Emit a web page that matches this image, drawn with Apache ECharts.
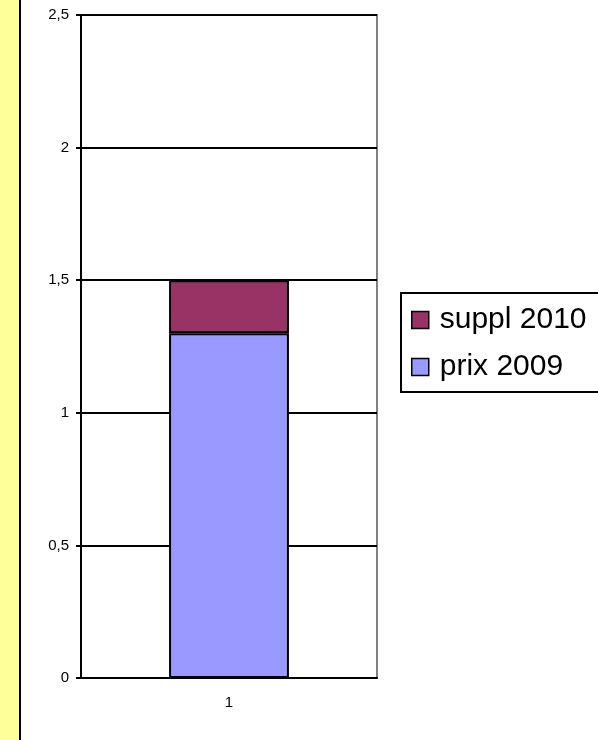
<!DOCTYPE html>
<html><head><meta charset="utf-8">
<style>html,body{margin:0;padding:0;background:#fff}#c{width:598px;height:740px}</style>
<script src="https://cdn.jsdelivr.net/npm/echarts@6/dist/echarts.min.js"></script>
</head><body><div id="c"></div>
<script>
var categories = ['1'];
var prix2009 = [1.3];
var suppl2010 = [0.2];
var yTicks = {min: 0, max: 2.5, interval: 0.5};

var chart = echarts.init(document.getElementById('c'), null, {renderer: 'canvas'});
var font = '"Liberation Sans", Arial, sans-serif';
chart.setOption({
  animation: false,
  backgroundColor: '#ffffff',
  graphic: [
    {type: 'rect', shape: {x: 0, y: 0, width: 20, height: 740}, style: {fill: '#FFFF99'}, silent: true},
    {type: 'rect', shape: {x: 19, y: 0, width: 2, height: 740}, style: {fill: '#000000'}, silent: true}
  ],
  grid: {left: 81, right: 221, top: 15, bottom: 62, show: true, borderColor: '#808080', borderWidth: 2, backgroundColor: 'transparent'},
  legend: {
    orient: 'vertical', left: 401, top: 293,
    data: ['suppl 2010', 'prix 2009'],
    icon: 'rect', itemWidth: 17, itemHeight: 17, itemGap: 15,
    borderColor: '#000', borderWidth: 2, padding: [11, 40, 9, 10],
    itemStyle: {borderColor: '#000', borderWidth: 1.5},
    textStyle: {fontFamily: font, fontSize: 30, color: '#000', lineHeight: 32, padding: [0,0,0,6]}
  },
  xAxis: {
    type: 'category', data: categories,
    axisLine: {lineStyle: {color: '#000', width: 2}},
    axisTick: {length: 5, lineStyle: {color: '#000', width: 2}},
    axisLabel: {fontFamily: font, fontSize: 15, color: '#000', margin: 17}
  },
  yAxis: {
    type: 'value', min: yTicks.min, max: yTicks.max, interval: yTicks.interval,
    axisLine: {show: true, lineStyle: {color: '#000', width: 2}},
    axisTick: {show: true, length: 5, lineStyle: {color: '#000', width: 2}},
    splitLine: {lineStyle: {color: '#000', width: 2}},
    axisLabel: {fontFamily: font, fontSize: 15, color: '#000', margin: 12,
      formatter: function(v){ return String(v).replace('.', ','); }}
  },
  series: [
    {name: 'prix 2009', type: 'bar', stack: 's', data: prix2009, barWidth: '40.5%',
     itemStyle: {color: '#9999FF', borderColor: '#000', borderWidth: 2}},
    {name: 'suppl 2010', type: 'bar', stack: 's', data: suppl2010, barWidth: '40.5%',
     itemStyle: {color: '#993366', borderColor: '#000', borderWidth: 2}}
  ]
});
</script></body></html>
